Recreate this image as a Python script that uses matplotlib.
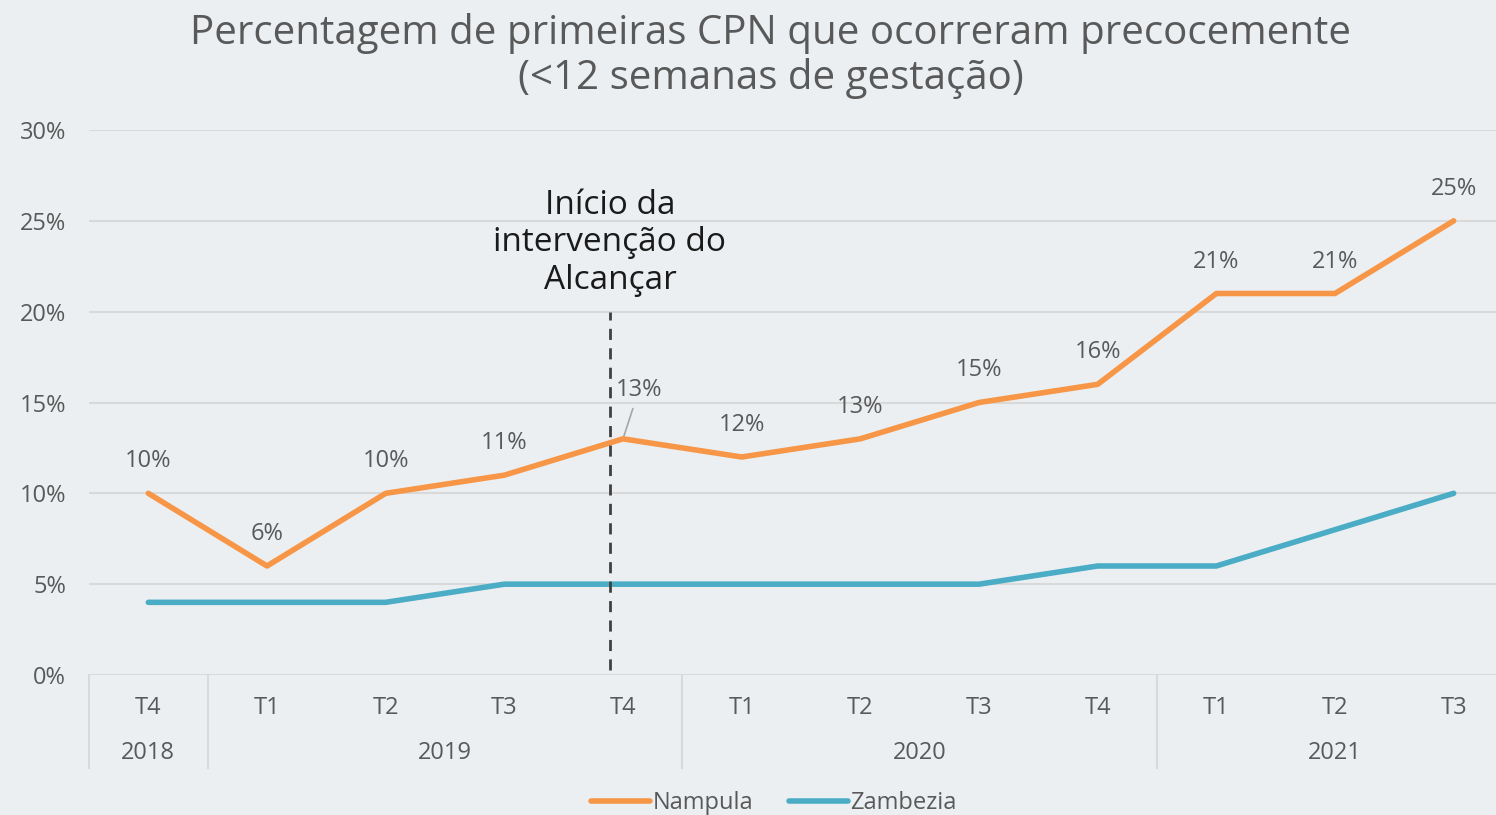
import matplotlib
matplotlib.use("Agg")
import matplotlib.pyplot as plt
from matplotlib.lines import Line2D
from matplotlib.ticker import FuncFormatter

plt.rcParams['font.family'] = ['Open Sans', 'DejaVu Sans']

quarters = ["T4", "T1", "T2", "T3", "T4", "T1", "T2", "T3", "T4", "T1", "T2", "T3"]
years = ["2018", "2019", "2020", "2021"]
year_spans = [(0, 0), (1, 4), (5, 8), (9, 11)]
nampula = [10, 6, 10, 11, 13, 12, 13, 15, 16, 21, 21, 25]
zambezia = [4, 4, 4, 5, 5, 5, 5, 5, 6, 6, 8, 10]

BG = "#EBEFF2"
ORANGE = "#F79646"
BLUE = "#4BACC6"
GRAY = "#595959"
GRID = "#D9D9D9"
FS = 17

W, H = 1496, 815
fig = plt.figure(figsize=(W / 100, H / 100), dpi=100, facecolor=BG)
ax = fig.add_axes([89 / W, (H - 675) / H, (1513 - 89) / W, (675 - 130) / H], facecolor=BG)

x = list(range(len(quarters)))
vals_n = [v / 100 for v in nampula]
vals_z = [v / 100 for v in zambezia]
ax.plot(x, vals_n, color=ORANGE, lw=4, solid_capstyle='round', label="Nampula", zorder=4)
ax.plot(x, vals_z, color=BLUE, lw=4, solid_capstyle='round', label="Zambezia", zorder=4)

ax.set_xlim(-0.5, 11.5)
ax.set_ylim(0, 0.30)
ax.set_yticks([0, 0.05, 0.10, 0.15, 0.20, 0.25, 0.30])
ax.yaxis.set_major_formatter(FuncFormatter(lambda v, p: f"{round(v * 100)}%"))
ax.tick_params(axis='y', length=0, pad=16.5, labelsize=FS, labelcolor=GRAY)
ax.set_xticks([])
ax.grid(axis='y', color=GRID, lw=1.5, zorder=0)
for s in ax.spines.values():
    s.set_visible(False)

PT = 0.72  # points per pixel at dpi 100

# data labels
for i, v in enumerate(nampula):
    if i == 4:
        ax.annotate(f"{v}%", xy=(i, v / 100), xytext=(16 * PT, 49 * PT),
                    textcoords='offset points', ha='center', va='center',
                    fontsize=FS, color=GRAY,
                    arrowprops=dict(arrowstyle='-', color='#A6A6A6', lw=1.2,
                                    shrinkA=3, shrinkB=2))
    else:
        ax.annotate(f"{v}%", xy=(i, v / 100), xytext=(0, 32 * PT),
                    textcoords='offset points', ha='center', va='center',
                    fontsize=FS, color=GRAY)

# category axis
trans = ax.get_xaxis_transform()
for i, q in enumerate(quarters):
    ax.annotate(q, xy=(i, 0), xycoords=trans, xytext=(0, -33 * PT),
                textcoords='offset points', ha='center', va='center',
                fontsize=FS, color=GRAY, annotation_clip=False)
for (a, b), yr in zip(year_spans, years):
    ax.annotate(yr, xy=((a + b) / 2, 0), xycoords=trans, xytext=(0, -78 * PT),
                textcoords='offset points', ha='center', va='center',
                fontsize=FS, color=GRAY, annotation_clip=False)
sep_bottom = -93 / (675 - 130)
for xs in [-0.5, 0.5, 4.5, 8.5]:
    ax.add_line(Line2D([xs, xs], [0, sep_bottom], transform=trans, color=GRID,
                       lw=1.5, clip_on=False))

# intervention marker
ax.plot([3.89, 3.89], [0.003, 0.20], color="#404040", lw=2, ls=(0, (4, 3)), zorder=5)
ax.text(3.89, 0.2378, "Início da\nintervenção do\nAlcançar", ha='center', va='center',
        fontsize=24, color="#1A1A1A", linespacing=1.17)

fig.text(771 / W, 1 - 56 / H,
         "Percentagem de primeiras CPN que ocorreram precocemente\n(<12 semanas de gestação)",
         ha='center', va='center', fontsize=29, color=GRAY, linespacing=1.15)

leg = fig.legend(loc='center', bbox_to_anchor=(774 / W, 1 - 803 / H), ncol=2,
                 frameon=False, fontsize=FS, handlelength=2.5, handletextpad=0.1,
                 columnspacing=1.5, labelcolor=GRAY)

fig.savefig("out.png", dpi=100, facecolor=BG)
